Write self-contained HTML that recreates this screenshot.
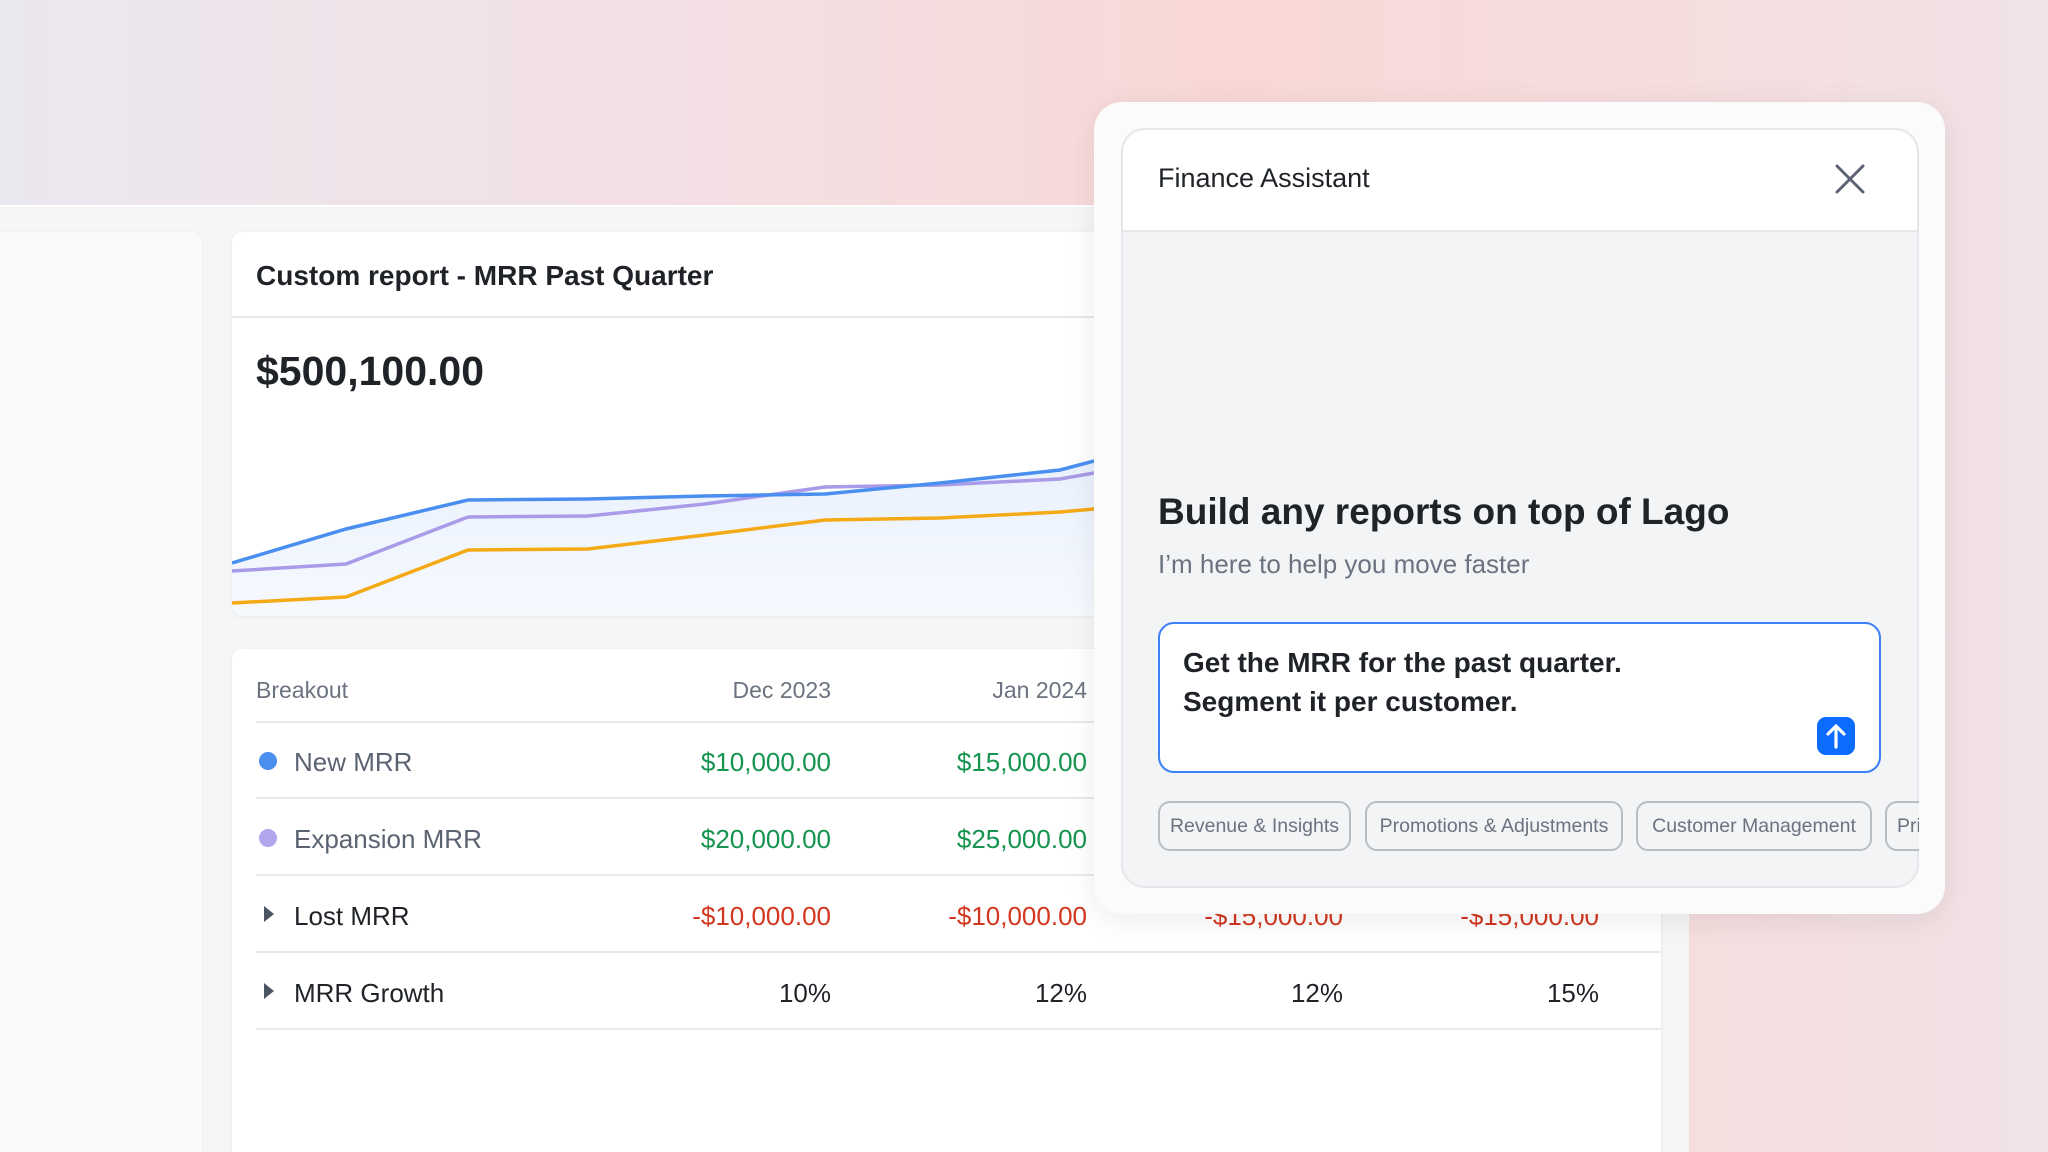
<!DOCTYPE html>
<html style="width:2048px;height:1152px;overflow:hidden"><head><meta charset="utf-8"><style>
*{box-sizing:border-box;margin:0;padding:0}
body{width:2048px;height:1152px;overflow:hidden;position:relative;font-family:"Liberation Sans",sans-serif;
background:linear-gradient(90deg,#ebe7ef 0%,#f3dfe3 35%,#f8d8d6 60%,#f5dedf 85%,#f0e2e6 100%);}
.app{position:absolute;left:0;top:205px;width:1689px;height:947px;background:#f6f6f7;border-top:2px solid #fff}
.side{position:absolute;left:0;top:232px;width:202px;height:920px;background:#fafafa;border-radius:0 10px 0 0;box-shadow:0 0 6px rgba(0,0,0,.04)}
.card{position:absolute;background:#fff;border-radius:10px;box-shadow:0 1px 4px rgba(0,0,0,.06)}
.t{position:absolute;white-space:nowrap}
.row{position:absolute;left:256px;width:1405px;height:2px;background:#e8e9ec}
.num{position:absolute;white-space:nowrap;text-align:right;font-size:26px}
.g{color:#15944f}.r{color:#d2361f}.k{color:#1f2328}
.chip{position:absolute;top:801px;height:50px;border:2px solid #b9bcc2;border-radius:12px;font-size:19.5px;color:#6b7280;line-height:46px;padding:0 11px;white-space:nowrap;background:#f3f4f6;text-align:center}
</style></head><body>
<div class="app"></div>
<div class="side"></div>
<div class="card" style="left:232px;top:232px;width:1429px;height:384px;overflow:hidden">
  <div style="position:absolute;left:0;top:84px;width:100%;height:2px;background:#e6e7ea"></div>
  <svg width="1429" height="384" style="position:absolute;left:0;top:0">
    <defs><linearGradient id="f" x1="0" y1="0" x2="0" y2="1"><stop offset="0" stop-color="#e6effd"/><stop offset="1" stop-color="#f6f9fe"/></linearGradient></defs>
    <g transform="translate(-232,-232)">
    <polygon fill="url(#f)" points="232,563 346,529 468,500 588,499 705,496 825,494 940,483 1060,470 1094,461 1661,420 1661,616 232,616"/>
    <polyline fill="none" stroke="#f4a915" stroke-width="3.5" points="232,603 346,597 468,550 588,549 705,535 825,520 940,518 1060,512 1094,509 1661,470"/>
    <polyline fill="none" stroke="#a99be8" stroke-width="3.5" points="232,571 346,564 468,517 588,516 705,504 825,487 940,485 1060,479 1094,473 1661,440"/>
    <polyline fill="none" stroke="#4a8ff0" stroke-width="3.5" points="232,563 346,529 468,500 588,499 705,496 825,494 940,483 1060,470 1094,461 1661,420"/>
    </g>
  </svg>
</div>
<div class="t k" style="left:256px;top:260px;font-size:28px;font-weight:bold">Custom report - MRR Past Quarter</div>
<div class="t k" style="left:256px;top:348px;font-size:41px;font-weight:bold">$500,100.00</div>
<div class="card" style="left:232px;top:649px;width:1429px;height:503px;border-radius:10px 10px 0 0"></div>
<div class="t" style="left:256px;top:677px;font-size:23px;color:#6b7280">Breakout</div>
<div class="num" style="right:1217px;top:677px;font-size:23px;color:#6b7280">Dec 2023</div>
<div class="num" style="right:961px;top:677px;font-size:23px;color:#6b7280">Jan 2024</div>
<div class="row" style="top:721px"></div>
<div class="row" style="top:797px"></div>
<div class="row" style="top:874px"></div>
<div class="row" style="top:951px"></div>
<div class="row" style="top:1028px"></div>
<div style="position:absolute;left:259px;top:752px;width:18px;height:18px;border-radius:50%;background:#4a8ff0"></div>
<div style="position:absolute;left:259px;top:829px;width:18px;height:18px;border-radius:50%;background:#b3a5ee"></div>
<div style="position:absolute;left:264px;top:906px;border-left:10px solid #4b5563;border-top:8px solid transparent;border-bottom:8px solid transparent"></div>
<div style="position:absolute;left:264px;top:983px;border-left:10px solid #4b5563;border-top:8px solid transparent;border-bottom:8px solid transparent"></div>
<div class="t" style="left:294px;top:747px;font-size:26px;color:#5b6373">New MRR</div>
<div class="t" style="left:294px;top:824px;font-size:26px;color:#5b6373">Expansion MRR</div>
<div class="t k" style="left:294px;top:901px;font-size:26px">Lost MRR</div>
<div class="t k" style="left:294px;top:978px;font-size:26px">MRR Growth</div>
<div class="num g" style="right:1217px;top:747px">$10,000.00</div>
<div class="num g" style="right:961px;top:747px">$15,000.00</div>
<div class="num g" style="right:1217px;top:824px">$20,000.00</div>
<div class="num g" style="right:961px;top:824px">$25,000.00</div>
<div class="num r" style="right:1217px;top:901px">-$10,000.00</div>
<div class="num r" style="right:961px;top:901px">-$10,000.00</div>
<div class="num r" style="right:705px;top:901px">-$15,000.00</div>
<div class="num r" style="right:449px;top:901px">-$15,000.00</div>
<div class="num k" style="right:1217px;top:978px">10%</div>
<div class="num k" style="right:961px;top:978px">12%</div>
<div class="num k" style="right:705px;top:978px">12%</div>
<div class="num k" style="right:449px;top:978px">15%</div>
<div style="position:absolute;left:1094px;top:102px;width:851px;height:812px;background:#fbfbfc;border-radius:28px;box-shadow:0 6px 30px rgba(0,0,0,.08)"></div>
<div style="position:absolute;left:1121px;top:128px;width:798px;height:760px;background:#f3f4f6;border:2px solid #e5e7eb;border-radius:24px;overflow:hidden">
  <div style="position:absolute;left:0;top:0;width:100%;height:102px;background:#fff;border-bottom:2px solid #e5e7eb"></div>
</div>
<div class="t k" style="left:1158px;top:163px;font-size:27px">Finance Assistant</div>
<svg width="32" height="32" style="position:absolute;left:1834px;top:163px"><path d="M3 3L29 29M29 3L3 29" stroke="#5b6373" stroke-width="3" stroke-linecap="round"/></svg>
<div class="t k" style="left:1158px;top:491px;font-size:37px;font-weight:bold">Build any reports on top of Lago</div>
<div class="t" style="left:1158px;top:549px;font-size:26px;color:#6b7280">I’m here to help you move faster</div>
<div style="position:absolute;left:1158px;top:622px;width:723px;height:151px;background:#fff;border:2px solid #3b82f6;border-radius:16px"></div>
<div class="t k" style="left:1183px;top:643px;font-size:28px;font-weight:bold;line-height:39px">Get the MRR for the past quarter.<br>Segment it per customer.</div>
<div style="position:absolute;left:1817px;top:717px;width:38px;height:38px;background:#0b6cff;border-radius:9px"></div>
<svg width="38" height="38" style="position:absolute;left:1817px;top:717px"><path d="M19 30V9M11 17L19 9L27 17" stroke="#fff" stroke-width="3.2" fill="none" stroke-linecap="round" stroke-linejoin="round"/></svg>
<div class="chip" style="left:1158px;width:193px;padding:0">Revenue &amp; Insights</div>
<div class="chip" style="left:1365px;width:258px;padding:0">Promotions &amp; Adjustments</div>
<div class="chip" style="left:1636px;width:236px;padding:0">Customer Management</div>
<div class="chip" style="left:1885px;width:34px;border-right:none;border-radius:12px 0 0 12px;overflow:hidden;padding:0 0 0 10px;text-align:left">Pri</div>
</body></html>
